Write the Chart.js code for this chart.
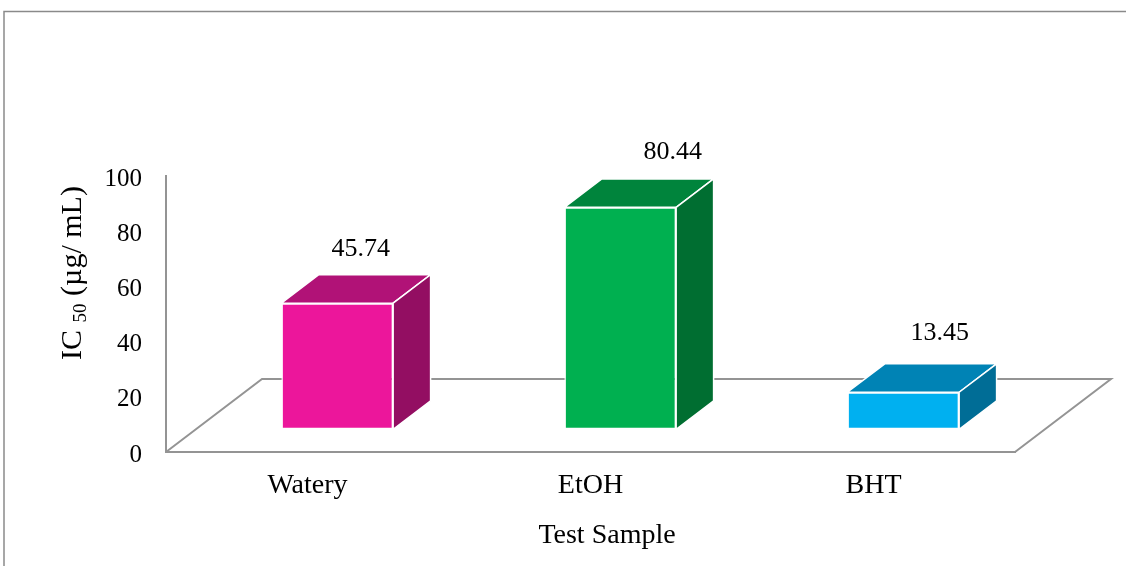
<!DOCTYPE html>
<html>
<head>
<meta charset="utf-8">
<script src="https://cdn.jsdelivr.net/npm/chart.js@4.4.1/dist/chart.umd.min.js"></script>
<style>
  html, body { margin: 0; padding: 0; background: #ffffff; overflow: hidden; }
  canvas { display: block; }
</style>
</head>
<body>
<canvas id="ic50Chart" width="1126" height="566"></canvas>
<script>
// IC50 values per test sample
const categories = ['Watery', 'EtOH', 'BHT'];
const ic50Values = [45.74, 80.44, 13.45];
const valueTicks = [0, 20, 40, 60, 80, 100];

// face colours of each box: front, top, side
const frontColors = ['#EC169B', '#00B050', '#00B0F0'];
const topColors = ['#B11277', '#00843C', '#0083B5'];
const sideColors = ['#930E62', '#006E31', '#006D96'];

const SERIF = "'Liberation Serif', 'Times New Roman', serif";
const LINE_GREY = '#949494';

// Draws the 3-D floor, the box depth faces, the value labels and the axis titles
const boxes3d = {
  id: 'boxes3d',
  beforeDraw(chart, args, opts) {
    const ctx = chart.ctx;
    ctx.save();
    ctx.strokeStyle = '#8a8a8a';
    ctx.lineWidth = 1.5;
    ctx.strokeRect(4, 11.5, chart.width + 50, chart.height + 50);
    ctx.restore();
  },
  beforeDatasetsDraw(chart, args, opts) {
    const { ctx, chartArea: a, scales: { y } } = chart;
    const y0 = y.getPixelForValue(0);
    const { dx, dy } = opts.floor;
    ctx.save();
    ctx.strokeStyle = LINE_GREY;
    ctx.lineWidth = 2;
    ctx.beginPath();
    ctx.moveTo(a.left, y0);
    ctx.lineTo(a.left + dx, y0 + dy);
    ctx.lineTo(a.right + dx, y0 + dy);
    ctx.lineTo(a.right, y0);
    ctx.stroke();
    ctx.restore();
  },
  beforeDatasetDraw(chart, args, opts) {
    const { dx, dy } = opts.floor;
    chart.ctx.save();
    chart.ctx.translate(dx * opts.near, dy * opts.near);
  },
  afterDatasetDraw(chart, args, opts) {
    const ctx = chart.ctx;
    const { dx, dy } = opts.floor;
    const ddx = dx * (opts.far - opts.near);
    const ddy = dy * (opts.far - opts.near);
    const face = (pts, fill) => {
      ctx.beginPath();
      pts.forEach(([px, py], k) => (k ? ctx.lineTo(px, py) : ctx.moveTo(px, py)));
      ctx.closePath();
      ctx.fillStyle = fill;
      ctx.fill();
      ctx.strokeStyle = '#ffffff';
      ctx.lineWidth = 1.5;
      ctx.stroke();
    };
    args.meta.data.forEach((bar, i) => {
      const { x, y, base, width } = bar.getProps(['x', 'y', 'base', 'width'], true);
      const l = x - width / 2;
      const r = x + width / 2;
      face([[l, y], [r, y], [r + ddx, y + ddy], [l + ddx, y + ddy]], topColors[i]);
      face([[r, y], [r + ddx, y + ddy], [r + ddx, base + ddy], [r, base]], sideColors[i]);

      const off = opts.labelOffsets[i];
      ctx.fillStyle = '#000000';
      ctx.font = '26px ' + SERIF;
      ctx.textAlign = 'center';
      ctx.textBaseline = 'middle';
      ctx.fillText(ic50Values[i].toFixed(2), x + off[0], y + ddy - off[1]);
    });
    ctx.restore();
  },
  afterDraw(chart, args, opts) {
    const ctx = chart.ctx;
    ctx.save();
    ctx.fillStyle = '#000000';
    ctx.textBaseline = 'alphabetic';

    // x-axis title
    ctx.font = '28px ' + SERIF;
    ctx.textAlign = 'center';
    ctx.fillText('Test Sample', opts.xTitle.x, opts.xTitle.y);

    // y-axis title with subscript
    const parts = [
      { t: 'IC ', size: 30, shift: 0 },
      { t: '50', size: 19, shift: 5 },
      { t: ' (\u00B5g/ mL)', size: 30, shift: 0 }
    ];
    let total = 0;
    parts.forEach(p => { ctx.font = p.size + 'px ' + SERIF; p.w = ctx.measureText(p.t).width; total += p.w; });
    ctx.translate(opts.yTitle.x, opts.yTitle.y);
    ctx.rotate(-Math.PI / 2);
    ctx.textAlign = 'left';
    let cx = -total / 2;
    parts.forEach(p => {
      ctx.font = p.size + 'px ' + SERIF;
      ctx.fillText(p.t, cx, p.shift);
      cx += p.w;
    });
    ctx.restore();
  }
};

new Chart(document.getElementById('ic50Chart'), {
  type: 'bar',
  data: {
    labels: categories,
    datasets: [{
      data: ic50Values,
      backgroundColor: frontColors,
      borderColor: '#ffffff',
      borderWidth: 1.5,
      borderSkipped: false,
      categoryPercentage: 1,
      barPercentage: 0.395,
      clip: false
    }]
  },
  options: {
    responsive: false,
    animation: false,
    devicePixelRatio: 1,
    layout: { padding: { left: 0, top: 176, right: 111, bottom: 0 } },
    plugins: {
      legend: { display: false },
      tooltip: { enabled: false },
      boxes3d: {
        floor: { dx: 96, dy: -73 },
        near: 0.31,
        far: 0.70,
        labelOffsets: [[23.5, 25], [52.5, 27], [36.5, 31]],
        xTitle: { x: 607, y: 543 },
        yTitle: { x: 81, y: 273 }
      }
    },
    scales: {
      x: {
        grid: { display: false, drawTicks: false },
        border: { display: true, color: LINE_GREY, width: 2 },
        ticks: { color: '#000000', font: { family: SERIF, size: 28 }, padding: 17 },
        afterFit(scale) { scale.height = 114; }
      },
      y: {
        min: 0,
        max: 100,
        afterBuildTicks(scale) { scale.ticks = valueTicks.map(v => ({ value: v })); },
        grid: { display: false, drawTicks: false },
        border: { display: true, color: LINE_GREY, width: 2 },
        ticks: { color: '#000000', font: { family: SERIF, size: 25 }, padding: 24, labelOffset: 3 },
        afterFit(scale) { scale.width = 166; }
      }
    }
  },
  plugins: [boxes3d]
});
</script>
</body>
</html>
